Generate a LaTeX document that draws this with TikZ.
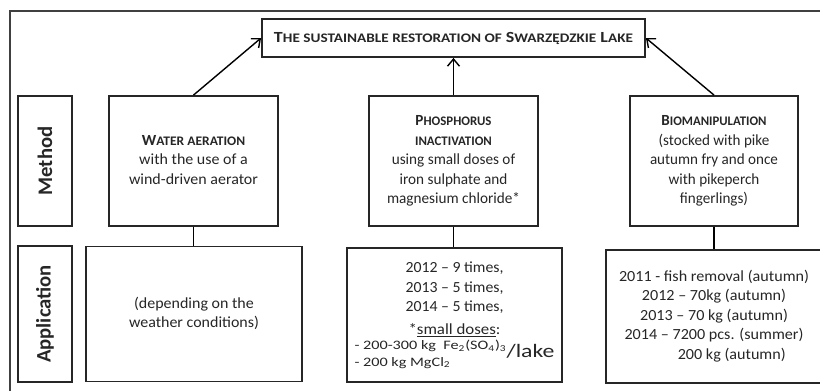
\documentclass[tikz,border=0pt]{standalone}
\usepackage{fontspec}
\setmainfont{Carlito}
\usepackage{graphicx}
\usepackage{tikz}
\usetikzlibrary{positioning, arrows.meta}
\newcommand{\smc}[1]{{\fontsize{9.3}{13.9}\selectfont #1}}
% block of centred lines, stretched to the width it has in the figure
\newcommand{\fitlines}[2]{\resizebox{#1}{\height}{\begin{tabular}{@{}c@{}}#2\end{tabular}}}
\tikzset{
    framebox/.style={draw=black!85, line width=1.3pt, align=center, inner sep=1pt, text=black!85},
    titlebox/.style={framebox, minimum width=9.575cm, minimum height=0.95cm, font=\fontsize{11}{13.9}\selectfont\bfseries},
    lblbox/.style={framebox, rotate=90, font=\fontsize{14.7}{17}\selectfont\bfseries},
    methbox/.style={framebox, minimum width=4.225cm, minimum height=3.25cm},
    appbox/.style={framebox, minimum width=5.4cm, minimum height=3.375cm},
}
\begin{document}
\begin{tikzpicture}[>={Straight Barb[length=1.8mm, width=3mm]}, every node/.style={font=\fontsize{11}{13.9}\selectfont}]
\useasboundingbox (0,0) rectangle (20.5,9.775);
% outer frame
\draw[black!75, line width=1.2pt] (0.25,0) -- (0.25,9.5) -- (20.5,9.5);
% title
\node[titlebox] (title) at (11.3375,8.825) {\resizebox{8.975cm}{\height}{T\smc{HE SUSTAINABLE RESTORATION OF} S\smc{WARZĘDZKIE} L\smc{AKE}}};
% row labels
\node[lblbox, minimum width=3.25cm, minimum height=1.35cm] (method) at (1.125,5.75) {Method};
\node[lblbox, minimum width=3.4cm, minimum height=1.35cm] (applic) at (1.125,1.925) {Application};
% methods
\node[methbox] (water) at (4.8375,5.75) {\fitlines{3.225cm}{\textbf{W\smc{ATER AERATION}}\\with the use of a\\wind-driven aerator}};
\node[methbox] (phos) at (11.3375,5.75) {\fitlines{3.325cm}{\textbf{P\smc{HOSPHORUS}}\\\textbf{\smc{INACTIVATION}}\\using small doses of\\iron sulphate and\\magnesium chloride*}};
\node[methbox, minimum width=4.2cm] (bio) at (17.85,5.75) {\fitlines{3.2cm}{\textbf{B\smc{IOMANIPULATION}}\\(stocked with pike\\autumn fry and once\\with pikeperch\\fingerlings)}};
% applications
\node[appbox] (waterapp) at (4.85,1.925) {\fitlines{3.25cm}{(depending on the\\weather conditions)}};
\node[appbox, minimum width=5.375cm, minimum height=3.35cm] (phosapp) at (11.3625,1.9) {\fitlines{2.45cm}{2012 -- 9 times,\\2013 -- 5 times,\\2014 -- 5 times,}\\[3pt]\resizebox{2.3cm}{\height}{*\underline{small doses}:}\\\resizebox{5cm}{\height}{\fontsize{9.2}{11.5}\selectfont\begin{tabular}{@{}l@{}}- 200-300 kg\ \ Fe\textsubscript{2}(SO\textsubscript{4})\textsubscript{3}\\- 200 kg MgCl\textsubscript{2}\end{tabular}{\fontsize{13.5}{16}\selectfont/lake}}\hspace{0.35cm}};
\node[appbox, minimum height=3.325cm] (bioapp) at (17.85,1.8625) {\fitlines{4.75cm}{2011 - fish removal (autumn)\\2012 -- 70kg (autumn)\\2013 -- 70 kg (autumn)\\2014 -- 7200 pcs. (summer)\\\hspace*{0.85cm}200 kg (autumn)}};
% arrows
\draw[->, line width=1pt] (water.north) -- (title.west);
\draw[->, line width=1pt] (phos.north) -- (title.south);
\draw[->, line width=1pt] (bio.north) -- (title.east);
\draw[line width=0.8pt] (water.south) -- (water.south |- waterapp.north);
\draw[line width=0.8pt] (phos.south) -- (phos.south |- phosapp.north);
\draw[line width=0.8pt] (bio.south) -- (bio.south |- bioapp.north);
\end{tikzpicture}
\end{document}
